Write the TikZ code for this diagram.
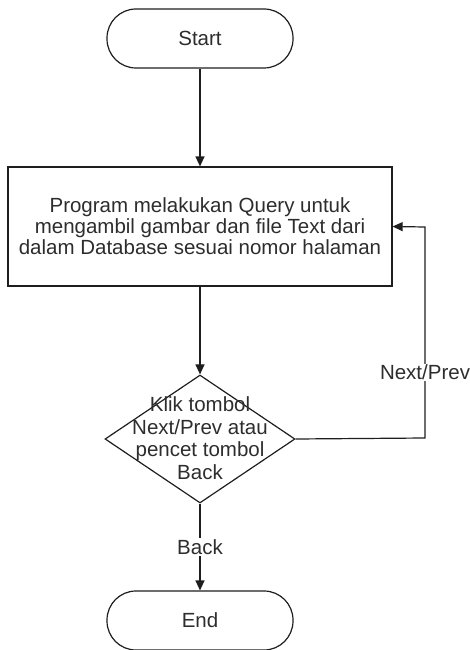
\documentclass[tikz,border=0pt]{standalone}
\usepackage{fontspec}
\setmainfont{Liberation Sans}
\usetikzlibrary{arrows.meta,shapes.geometric}
\definecolor{ink}{RGB}{30,30,30}
\definecolor{txt}{RGB}{45,45,45}
\begin{document}
\begin{tikzpicture}[x=1pt,y=-1pt,
  every node/.style={text=txt,font=\fontsize{20.5}{21}\selectfont},
  term/.style={draw=ink,line width=1.2pt,rectangle,rounded corners=29pt,minimum width=186pt,minimum height=59pt,inner sep=0pt},
  procbox/.style={draw=ink,line width=1.2pt,rectangle,minimum width=384pt,minimum height=119pt,inner sep=0pt,align=center},
  decbox/.style={draw=ink,line width=1.2pt,diamond,minimum width=190pt,minimum height=128pt,inner sep=0pt},
  conn/.style={draw=ink,line width=1.2pt,-{Triangle[length=10pt,width=9pt]}},
  lbl/.style={fill=white,inner sep=1pt}]
\useasboundingbox (0,0) rectangle (470,650);
\node[term] (start) at (200,38.5) {Start};
\node[procbox] (proc) at (200,226.5) {Program melakukan Query untuk\\mengambil gambar dan file Text dari\\dalam Database sesuai nomor halaman};
\node[decbox] (dec) at (200,439) {};
\node[align=center,inner sep=0pt,font=\fontsize{20.5}{22.5}\selectfont] (dectext) at (200,438) {Klik tombol\\Next/Prev atau\\pencet tombol\\Back};
\node[term] (end) at (200,620.5) {End};
\coordinate (c1) at (425,438);
\coordinate (c2) at (425,227);
\draw[conn] (start) -- (proc);
\draw[conn] (proc) -- (dec);
\draw[conn] (dec.south) -- node[lbl] (back) {Back} (end.north);
\draw[conn] (dec.east) -- (c1) -- node[lbl,pos=0.31] (np) {Next/Prev} (c2) -- (proc.east);
\end{tikzpicture}
\end{document}
